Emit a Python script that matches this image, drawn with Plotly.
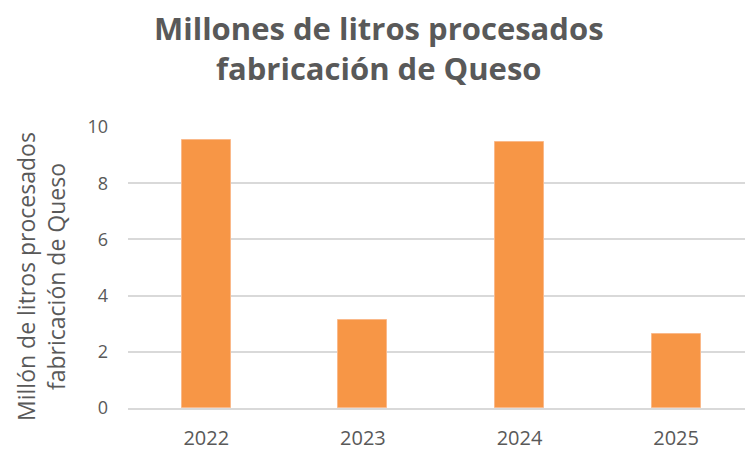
import plotly.graph_objects as go

years = ["2022", "2023", "2024", "2025"]
values = [9.52, 3.14, 9.47, 2.65]
y_ticks = [0, 2, 4, 6, 8, 10]

TXT = "#595959"
FONT = "Open Sans"

fig = go.Figure(go.Bar(
    x=years, y=values,
    marker=dict(color="#F79646", line=dict(color="#FAB98A", width=1)),
    width=0.313,
))

fig.update_layout(
    width=745, height=451,
    margin=dict(l=128, r=0, t=127, b=41),
    paper_bgcolor="white", plot_bgcolor="white",
    showlegend=False,
    font=dict(family=FONT, color=TXT),
    bargap=0,
)
fig.update_xaxes(
    type="category", range=[-0.5, 3.44],
    showgrid=False, showline=True, linecolor="#D9D9D9", linewidth=1.5,
    tickfont=dict(size=20, color=TXT, family=FONT),
    ticks="", ticklabelstandoff=11,
)
fig.update_yaxes(
    range=[0, 10], tickvals=y_ticks,
    showgrid=True, gridcolor="#D9D9D9", gridwidth=1.5,
    zeroline=False, showline=False,
    tickfont=dict(size=18, color=TXT, family=FONT),
    ticks="", ticklabelstandoff=19,
)
fig.add_annotation(
    text="<b>Millones de litros procesados<br>fabricación de Queso</b>",
    xref="paper", yref="paper", x=(379 - 128) / 617, y=1 + (127 - 4) / 283,
    xanchor="center", yanchor="top", showarrow=False,
    font=dict(size=31, color=TXT, family=FONT), align="center",
)
fig.add_annotation(
    text="Millón de litros procesados<br>fabricación de Queso",
    xref="paper", yref="paper", x=-(128 - 41) / 617, y=(410 - 278) / 283,
    xanchor="center", yanchor="middle", showarrow=False, textangle=-90,
    font=dict(size=23, color=TXT, family=FONT), align="center",
)

fig.write_html(
    "out.html",
    config={"displayModeBar": False},
    post_script="document.body.style.margin='0';document.body.style.overflow='hidden';",
)
